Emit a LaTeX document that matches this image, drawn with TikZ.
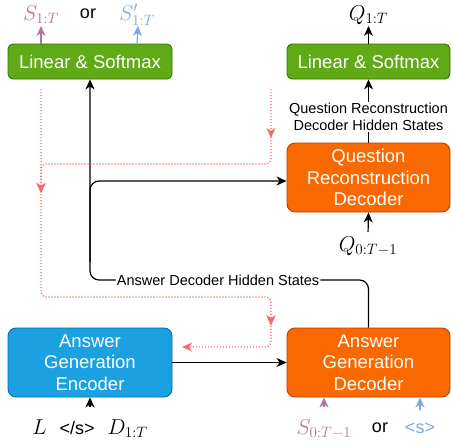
\RequirePackage{fix-cm}
\documentclass[tikz,border=0pt]{standalone}
\usepackage{fontspec}
\setmainfont{Liberation Sans}
\usetikzlibrary{arrows.meta,decorations.markings}
\definecolor{lsgreen}{HTML}{60A917}
\definecolor{lsgreenline}{HTML}{2D7600}
\definecolor{decorange}{HTML}{FA6800}
\definecolor{decorangeline}{HTML}{C73500}
\definecolor{encblue}{HTML}{1BA1E2}
\definecolor{encblueline}{HTML}{006EAF}
\definecolor{tokpurple}{HTML}{B5739D}
\definecolor{tokblue}{HTML}{7EA6E0}
\definecolor{attnred}{HTML}{FF6666}

\begin{document}
\begin{tikzpicture}[x=1pt, y=-1pt,
  block/.style={draw, line width=0.9pt, rounded corners=8pt, align=center,
    text=white, inner sep=0pt, minimum height=69pt,
    font=\fontsize{18.5}{21.7}\selectfont},
  softmax/.style={block, rounded corners=5pt, fill=lsgreen, draw=lsgreenline,
    minimum width=164pt, minimum height=35pt},
  decoder/.style={block, fill=decorange, draw=decorangeline, minimum width=163pt},
  encoder/.style={block, fill=encblue, draw=encblueline, minimum width=164pt},
  token/.style={inner sep=1pt, text height=15pt, text depth=4.5pt,
    font=\fontsize{21.5}{26}\selectfont},
  word/.style={inner sep=1pt, font=\fontsize{18}{22}\selectfont},
  hidden/.style={fill=white, inner sep=1pt, align=center,
    font=\fontsize{14.5}{17}\selectfont},
  flow/.style={-{Stealth[length=10pt, width=9pt, inset=3pt]}, line width=1.2pt},
  attn/.style={draw=attnred, line width=1.2pt, dash pattern=on 1.2pt off 1.8pt,
    rounded corners=5pt},
  midtip/.style={postaction={decorate}, decoration={markings,
    mark=at position #1 with {\arrow[fill=attnred]{Stealth[length=10pt, width=9pt, inset=3pt]}}}}
]
  \useasboundingbox (0,0) rectangle (451,448);

  \node[softmax] (lsL) at (90,61.5) {Linear \& Softmax};
  \node[softmax, minimum width=163pt] (lsR) at (368.5,61.5) {Linear \& Softmax};
  \node[decoder] (qrd) at (368.5,177.5) {Question\\Reconstruction\\Decoder};
  \node[encoder] (enc) at (90,362.5) {Answer\\Generation\\Encoder};
  \node[decoder] (dec) at (368.5,362.5) {Answer\\Generation\\Decoder};

  \node[token, text=tokpurple] (sout) at (41,15) {$S_{1:T}$};
  \node[word] (orTop) at (88,13.5) {or};
  \node[token, text=tokblue] (soutp) at (137,15) {$S'_{1:T}$};
  \node[token] (qout) at (368.5,15) {$Q_{1:T}$};
  \node[token] (qin) at (368,246) {$Q_{0:T-1}$};
  \node[token] (encin) at (90,429)
    {$L$\hspace{0.6em}{\fontsize{18}{22}\selectfont</s>}\hspace{0.6em}$D_{1:T}$};
  \node[token, text=tokpurple] (sin) at (324,429) {$S_{0:T-1}$};
  \node[word] (orBot) at (380,428) {or};
  \node[word, text=tokblue] (bos) at (420,428) {<s>};

  \draw[flow, draw=tokpurple] (lsL.north -| sout) -- (sout.south);
  \draw[flow, draw=tokblue] (lsL.north -| soutp.south) -- ([xshift=1pt]soutp.south);
  \draw[flow] (lsR.north) -- (qout.south);
  \draw[flow] (qrd.north) -- node[hidden, pos=0.4]
    {Question Reconstruction\\Decoder Hidden States} (lsR.south);
  \draw[flow, shorten <=3pt] (qin.north) -- (qrd.south);
  \draw[flow, shorten <=11pt] (encin.north) -- (enc.south);
  \draw[flow, draw=tokpurple, shorten <=11pt] (sin.north) -- (dec.south -| sin);
  \draw[flow, draw=tokblue, shorten <=11pt] (bos.north) -- (dec.south -| bos);
  \draw[flow] (enc) -- (dec);

  \coordinate (hid) at (90,280);
  \coordinate (branch) at (90,262);
  \draw[flow, rounded corners=9pt] (dec.north) |-
    node[hidden, pos=0.77] {Answer Decoder Hidden States} (hid) -- (lsL.south);
  \draw[flow, rounded corners=9pt] (branch) |- ([yshift=-3.5pt]qrd.west);

  \coordinate (redL) at (41,89);
  \coordinate (redR) at (271,89);
  \coordinate (redEnd) at (182,347);
  \draw[attn, midtip=49pt] (redR) -- (271,164) -- (41,164) -- (41,185);
  \draw[attn, midtip=104pt, midtip=462pt,
    -{Stealth[length=10pt, width=9pt, inset=3pt, fill=attnred]}]
    (redL) -- (41,297) -- (271,297) -- (271,347) -- (redEnd);
\end{tikzpicture}
\end{document}
